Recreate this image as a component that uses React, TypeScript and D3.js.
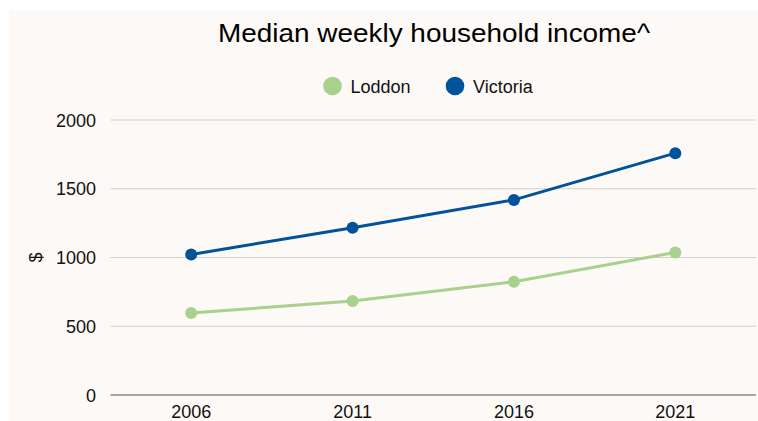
import React from "react";
import * as d3 from "d3";

const years = ["2006", "2011", "2016", "2021"];
const loddon = [596, 684, 823, 1037];
const victoria = [1022, 1216, 1419, 1759];
const yTicks = [0, 500, 1000, 1500, 2000];
const seriesNames = ["Loddon", "Victoria"];
const seriesColors = ["#a9d18e", "#00529b"];

const W = 758;
const H = 421;
const M = { left: 110.5, right: 756, top: 120, bottom: 395 };

export default function App() {
  const x = d3.scaleBand<string>().domain(years).range([M.left, M.right]);
  const y = d3.scaleLinear().domain([0, 2000]).range([M.bottom, M.top]);
  const cx = (d: string) => (x(d) as number) + x.bandwidth() / 2;
  const line = d3
    .line<number>()
    .x((_, i) => cx(years[i]))
    .y((v) => y(v));
  const series = [loddon, victoria];
  const font = "'Liberation Sans', Arial, sans-serif";
  const legendX = [332.5, 455];
  const legendTextX = [350.5, 473];

  return (
    <svg
      width={W}
      height={H}
      style={{ position: "absolute", left: 0, top: 0, background: "#fff" }}
      fontFamily={font}
    >
      <rect x={9} y={11} width={W - 9} height={H - 11} fill="#fdf9f6" />
      <text
        x={218}
        y={42}
        fontSize={26}
        fill="#000"
        textLength={432}
        lengthAdjust="spacingAndGlyphs"
      >
        Median weekly household income^
      </text>
      {seriesNames.map((n, i) => (
        <g key={n}>
          <circle cx={legendX[i]} cy={86} r={9.3} fill={seriesColors[i]} />
          <text x={legendTextX[i]} y={92.5} fontSize={18} fill="#111">
            {n}
          </text>
        </g>
      ))}
      {yTicks.map((t) => (
        <g key={t}>
          <line
            x1={M.left}
            x2={M.right}
            y1={y(t)}
            y2={y(t)}
            stroke={t === 0 ? "#8a8a8a" : "#d3cfcb"}
            strokeWidth={t === 0 ? 1.3 : 1}
          />
          <text x={96} y={y(t) + 6.5} textAnchor="end" fontSize={18} fill="#111">
            {t}
          </text>
        </g>
      ))}
      <text
        transform={`translate(42, ${y(1000)}) rotate(-90)`}
        textAnchor="middle"
        fontSize={18}
        fill="#111"
      >
        $
      </text>
      {years.map((yr) => (
        <text key={yr} x={cx(yr)} y={418} textAnchor="middle" fontSize={18} fill="#111">
          {yr}
        </text>
      ))}
      {series.map((s, i) => (
        <g key={i}>
          <path d={line(s) || ""} fill="none" stroke={seriesColors[i]} strokeWidth={3} />
          {s.map((v, j) => (
            <circle key={j} cx={cx(years[j])} cy={y(v)} r={6} fill={seriesColors[i]} />
          ))}
        </g>
      ))}
    </svg>
  );
}
